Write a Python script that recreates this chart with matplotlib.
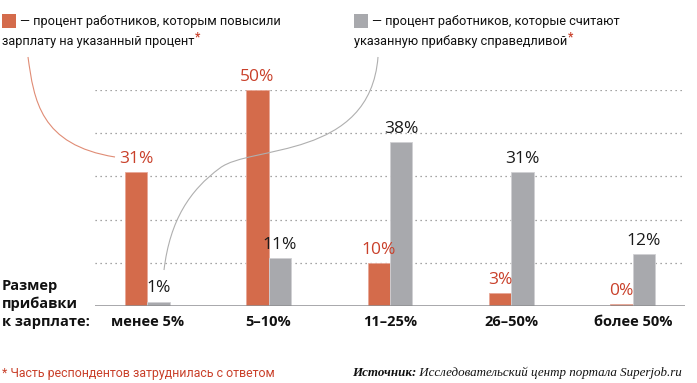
import matplotlib
matplotlib.use("Agg")
import matplotlib.pyplot as plt
from matplotlib.path import Path
from matplotlib.patches import PathPatch, Rectangle

# -------- DATA --------
categories = ["менее 5%", "5–10%", "11–25%", "26–50%", "более 50%"]
raised = [31, 50, 10, 3, 0.5]          # процент работников, которым повысили
raised_labels = ["31%", "50%", "10%", "3%", "0%"]
fair = [1, 11, 38, 31, 12]             # процент считающих прибавку справедливой
fair_labels = ["1%", "11%", "38%", "31%", "12%"]

ORANGE = "#D46B4B"
GRAY = "#A8A9AD"
RED_TEXT = "#C9402A"
FONT = "Roboto"
LEG_FS = 9.2
# ----------------------

W, H = 697, 383
fig = plt.figure(figsize=(W / 100, H / 100), dpi=100)
renderer = fig.canvas.get_renderer()

# axes placed in pixel terms: baseline y=306, 50% at y=90
ax = fig.add_axes([95 / W, 1 - 306 / H, 590 / W, 216 / H])
ax.set_xlim(-0.43, 4.43)
ax.set_ylim(0, 50)
ax.axis("off")

bw = 0.185
xs = range(len(categories))

# dotted gridlines
for g in [10, 20, 30, 40, 50]:
    ax.axhline(g, color="#888888", lw=0.9, ls=(0, (1, 3)), zorder=0)
ax.axhline(0, color="#8E8F92", lw=1.8, zorder=3)

for i in xs:
    ax.bar(i - bw / 2, raised[i], width=bw, color=ORANGE, edgecolor="#E8A897", lw=0.6, zorder=2)
    ax.bar(i + bw / 2, fair[i], width=bw, color=GRAY, edgecolor="#D0D0D3", lw=0.6, zorder=2)
    ax.text(i - bw / 2, raised[i] + 1.2, raised_labels[i], ha="center", va="bottom",
            color=RED_TEXT, fontsize=12.5, family="Open Sans")
    ax.text(i + bw / 2, fair[i] + 1.2, fair_labels[i], ha="center", va="bottom",
            color="#1a1a1a", fontsize=12.5, family="Open Sans")
    ax.text(i, -2.0, categories[i], ha="center", va="top", fontsize=10.5,
            family="Open Sans", fontweight="bold", color="#111111")

# connector curves from legend to bars (figure pixel coords)
def curve(pts, color):
    verts = [(x / W, 1 - y / H) for x, y in pts]
    codes = [Path.MOVETO] + [Path.CURVE4] * (len(verts) - 1)
    fig.add_artist(PathPatch(Path(verts, codes), transform=fig.transFigure,
                             fc="none", ec=color, lw=0.8))

curve([(28, 57), (34, 100), (40, 145), (115, 157)], "#E08C75")
curve([(378, 57), (370, 160), (250, 145), (220, 168),
       (190, 190), (170, 220), (164, 270)], "#AFAFAF")


def text_with_star(x, y, s):
    t = fig.text(x / W, 1 - y / H, s, va="center", fontsize=LEG_FS, family=FONT, color="#111111")
    bb = t.get_window_extent(renderer)
    fig.text(bb.x1 / W + 0.5 / W, 1 - (y - 4) / H, "*", va="center", fontsize=8.5,
             family=FONT, color=RED_TEXT, fontweight="bold")


# legend
fig.add_artist(Rectangle((2 / W, 1 - 28 / H), 14 / W, 14 / H, transform=fig.transFigure,
                         fc=ORANGE, ec="none"))
fig.text(20 / W, 1 - 21 / H, "— процент работников, которым повысили", va="center",
         fontsize=LEG_FS, family=FONT, color="#111111")
text_with_star(2, 41, "зарплату на указанный процент")

fig.add_artist(Rectangle((354 / W, 1 - 28 / H), 14 / W, 14 / H, transform=fig.transFigure,
                         fc=GRAY, ec="none"))
fig.text(372 / W, 1 - 21 / H, "— процент работников, которые считают", va="center",
         fontsize=LEG_FS, family=FONT, color="#111111")
text_with_star(354, 41, "указанную прибавку справедливой")

# axis caption
fig.text(2 / W, 1 - 304 / H, "Размер\nприбавки\nк зарплате:", va="center",
         fontsize=10.5, family="Open Sans", fontweight="bold", linespacing=1.35, color="#111111")

# footnote and source
fig.text(2 / W, 1 - 373 / H, "* Часть респондентов затруднилась с ответом", va="center",
         fontsize=8.9, family=FONT, color=RED_TEXT)
src = fig.text(682 / W, 1 - 373 / H, " Исследовательский центр портала Superjob.ru",
               ha="right", va="center", fontsize=9.4, family="Liberation Serif",
               style="italic", color="#111111")
bb = src.get_window_extent(renderer)
fig.text(bb.x0 / W, 1 - 373 / H, "Источник:", ha="right", va="center", fontsize=9.4,
         family="Liberation Serif", style="italic", fontweight="bold", color="#111111")

fig.savefig("out.png", dpi=100)
